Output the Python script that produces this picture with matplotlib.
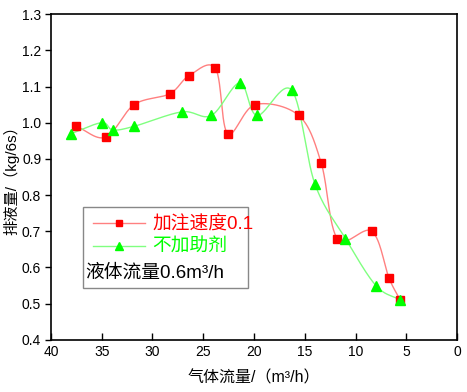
import numpy as np
import matplotlib
matplotlib.use("Agg")
import matplotlib.pyplot as plt
from matplotlib.lines import Line2D
from matplotlib.patches import Rectangle

plt.rcParams['font.family'] = ['Liberation Sans', 'Noto Sans CJK SC', 'DejaVu Sans']

# * Data
red_x = [37.5, 34.6, 31.8, 28.3, 26.4, 23.8, 22.6, 19.9, 15.6, 13.4, 11.8, 8.4, 6.7, 5.6]
red_y = [0.99, 0.96, 1.05, 1.08, 1.13, 1.15, 0.97, 1.05, 1.02, 0.89, 0.68, 0.70, 0.57, 0.51]
green_x = [38.0, 35.0, 33.9, 31.8, 27.1, 24.2, 21.4, 19.7, 16.3, 14.0, 11.0, 8.0, 5.6]
green_y = [0.97, 1.00, 0.98, 0.99, 1.03, 1.02, 1.11, 1.02, 1.09, 0.83, 0.68, 0.55, 0.51]
label_red = "加注速度0.1"
label_green = "不加助剂"
note = "液体流量0.6m³/h"

RED = "#ff0000"
GREEN = "#00ff00"
RED_LINE = "#ff8080"
GREEN_LINE = "#80ff80"


# Smooth connecting line (Catmull-Rom through the data points, for drawing only)
def smooth(xs, ys, n=30):
    xs = np.asarray(xs, float)
    ys = np.asarray(ys, float)
    # scale to roughly screen-like units so the curve shape is similar
    px = xs / 40.0
    py = (ys - 0.4) / 0.9 * 0.8
    P = np.column_stack([px, py])
    P = np.vstack([2 * P[0] - P[1], P, 2 * P[-1] - P[-2]])
    out = []
    for i in range(1, len(P) - 2):
        p0, p1, p2, p3 = P[i - 1], P[i], P[i + 1], P[i + 2]
        t = np.linspace(0, 1, n)[:, None]
        seg = 0.5 * ((2 * p1) + (-p0 + p2) * t + (2 * p0 - 5 * p1 + 4 * p2 - p3) * t ** 2
                     + (-p0 + 3 * p1 - 3 * p2 + p3) * t ** 3)
        out.append(seg)
    out = np.vstack(out)
    return out[:, 0] * 40.0, out[:, 1] / 0.8 * 0.9 + 0.4


fig = plt.figure(figsize=(4.67, 3.92), dpi=100)
ax = fig.add_axes([0.109, 0.133, 0.870, 0.831])

sx, sy = smooth(red_x, red_y)
ax.plot(sx, sy, color=RED_LINE, lw=1.0, zorder=2)
sx, sy = smooth(green_x, green_y)
ax.plot(sx, sy, color=GREEN_LINE, lw=1.0, zorder=2)
ax.plot(red_x, red_y, "s", color=RED, ms=6, zorder=3)
ax.plot(green_x, green_y, "^", color=GREEN, ms=7, zorder=3)

ax.set_xlim(40, 0)
ax.set_ylim(0.4, 1.3)
ax.set_xticks(np.arange(40, -1, -5))
ax.set_yticks(np.arange(0.4, 1.31, 0.1))
ax.set_yticklabels([f"{v:.1f}" for v in np.arange(0.4, 1.31, 0.1)])
ax.tick_params(axis='x', direction='in', length=5, width=1, labelsize=10, pad=4)
ax.tick_params(axis='y', direction='out', length=4, width=1, labelsize=10, pad=3)
for s in ax.spines.values():
    s.set_linewidth(1.2)
    s.set_color("#000000")

ax.set_xlabel("气体流量/（m³/h）", fontsize=11.5, labelpad=8)
ax.set_ylabel("排液量/（kg/6s）", fontsize=11, labelpad=2)

# Legend box
ax.add_patch(Rectangle((0.080, 0.160), 0.405, 0.247, transform=ax.transAxes,
                       fill=False, edgecolor="#888888", lw=1.0, zorder=4))
handles = [Line2D([], [], color=RED_LINE, lw=1.0, marker="s", mfc=RED, mec=RED, ms=5),
           Line2D([], [], color=GREEN_LINE, lw=1.0, marker="^", mfc=GREEN, mec=GREEN, ms=6)]
leg = ax.legend(handles, [label_red, label_green], loc="upper left",
                bbox_to_anchor=(0.075, 0.415), frameon=False, fontsize=13.5,
                handlelength=2.8, handletextpad=0.4, labelspacing=0.3,
                borderaxespad=0.2, labelcolor=[RED, GREEN])
ax.text(0.085, 0.205, note, transform=ax.transAxes, fontsize=13.5,
        ha="left", va="center", color="#000000")

fig.savefig("out.png", dpi=100)
